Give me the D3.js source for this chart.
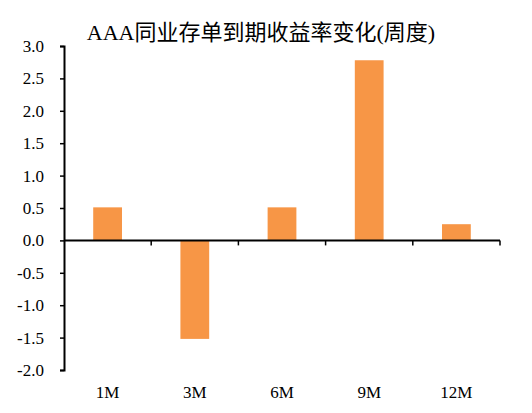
<!DOCTYPE html>
<html>
<head>
<meta charset="utf-8">
<script src="https://cdn.jsdelivr.net/npm/d3@7"></script>
<style>
  body { margin: 0; background: #fff; }
</style>
</head>
<body>
<svg id="chart" width="532" height="413"></svg>
<script>
// AAA certificate-of-deposit yield change by tenor (bp, weekly)
const titleText = 'AAA同业存单到期收益率变化(周度)';
const tenors = ['1M', '3M', '6M', '9M', '12M'];
const changes = [0.51, -1.52, 0.51, 2.78, 0.25];
const yTicks = [-2.0, -1.5, -1.0, -0.5, 0.0, 0.5, 1.0, 1.5, 2.0, 2.5, 3.0];

const fontStack = '"Liberation Serif", "Times New Roman", "Noto Sans CJK SC", serif';
const svg = d3.select('#chart');
const plotLeft = 64;
const plotRight = 500;
const plotTop = 46;
const plotBottom = 370;
const barColor = '#F79646';

const x = d3.scaleBand()
  .domain(tenors)
  .range([plotLeft, plotRight])
  .paddingInner(0.67)
  .paddingOuter(0.335);

const y = d3.scaleLinear()
  .domain([-2, 3])
  .range([plotBottom, plotTop]);

svg.append('text')
  .attr('x', 261)
  .attr('y', 40)
  .attr('text-anchor', 'middle')
  .style('font-family', fontStack)
  .style('font-size', '22px')
  .attr('fill', '#000')
  .text(titleText);

// bars
svg.selectAll('.bar')
  .data(changes)
  .enter()
  .append('rect')
  .classed('bar', true)
  .attr('x', (d, i) => x(tenors[i]))
  .attr('width', x.bandwidth())
  .attr('y', d => y(Math.max(0, d)))
  .attr('height', d => Math.abs(y(d) - y(0)))
  .attr('fill', barColor);

// y axis
const yAxis = d3.axisLeft(y)
  .tickValues(yTicks)
  .tickFormat(d3.format('.1f'))
  .tickSize(4)
  .tickPadding(16);

const gy = svg.append('g')
  .attr('transform', `translate(${plotLeft},0)`)
  .call(yAxis);
gy.select('.domain').attr('stroke', '#000').attr('stroke-width', 2);
gy.selectAll('.tick line').attr('stroke', '#000').attr('stroke-width', 1.5);
gy.selectAll('.tick text')
  .style('font-family', fontStack)
  .style('font-size', '17px')
  .attr('fill', '#000')
  .text(d => (d < 0 ? '-' : '') + d3.format('.1f')(Math.abs(d)));

// x axis along zero line
const bandStep = x.step();
const xTickPositions = tenors.map((t, i) => plotLeft + bandStep * (i + 1));

const gx = svg.append('g');
gx.append('line')
  .attr('x1', plotLeft)
  .attr('x2', plotRight)
  .attr('y1', y(0))
  .attr('y2', y(0))
  .attr('stroke', '#000')
  .attr('stroke-width', 2);

gx.selectAll('.xtick')
  .data(xTickPositions)
  .enter()
  .append('line')
  .classed('xtick', true)
  .attr('x1', d => d)
  .attr('x2', d => d)
  .attr('y1', y(0))
  .attr('y2', y(0) + 5)
  .attr('stroke', '#000')
  .attr('stroke-width', 1.5);

svg.selectAll('.xlabel')
  .data(tenors)
  .enter()
  .append('text')
  .classed('xlabel', true)
  .attr('x', d => x(d) + x.bandwidth() / 2)
  .attr('y', 398)
  .attr('text-anchor', 'middle')
  .style('font-family', fontStack)
  .style('font-size', '17px')
  .attr('fill', '#000')
  .text(d => d);
</script>
</body>
</html>
